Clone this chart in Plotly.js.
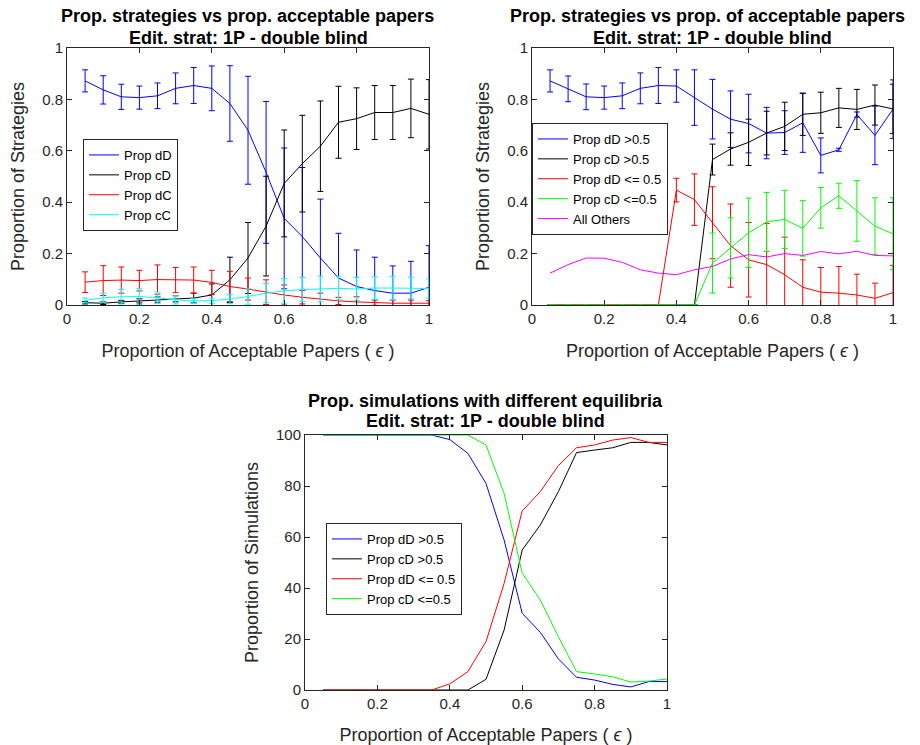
<!DOCTYPE html>
<html>
<head>
<meta charset="utf-8">
<script src="https://cdn.plot.ly/plotly-3.0.1.min.js"></script>
<style>
  html, body { margin: 0; padding: 0; background: #ffffff; }
  #chart { width: 920px; height: 745px; }
</style>
</head>
<body>
<div id="chart"></div>
<script>
// ---------- data ----------
const eps = [0.05, 0.10, 0.15, 0.20, 0.25, 0.30, 0.35, 0.40, 0.45, 0.50,
             0.55, 0.60, 0.65, 0.70, 0.75, 0.80, 0.85, 0.90, 0.95, 1.00];

// top-left: proportion of strategies
const tlNames = ['Prop dD', 'Prop cD', 'Prop dC', 'Prop cC'];
const tlDD    = [0.872,0.837,0.810,0.807,0.814,0.843,0.854,0.843,0.784,0.680,0.516,0.337,0.266,0.183,0.105,0.072,0.056,0.046,0.046,0.069];
const tlDDerr = [0.043,0.055,0.049,0.045,0.050,0.060,0.070,0.087,0.147,0.210,0.276,0.274,0.269,0.229,0.174,0.142,0.130,0.106,0.124,0.162];
const tlCD    = [0.009,0.007,0.012,0.016,0.021,0.024,0.027,0.039,0.098,0.183,0.307,0.473,0.550,0.618,0.711,0.725,0.749,0.749,0.765,0.742];
const tlCDerr = [0.005,0.005,0.006,0.008,0.010,0.012,0.019,0.043,0.088,0.138,0.194,0.208,0.188,0.176,0.140,0.120,0.105,0.105,0.114,0.135];
const tlDC    = [0.089,0.095,0.097,0.095,0.099,0.097,0.097,0.088,0.072,0.062,0.050,0.039,0.030,0.022,0.016,0.012,0.009,0.007,0.007,0.007];
const tlDCerr = [0.040,0.058,0.051,0.040,0.057,0.049,0.051,0.047,0.059,0.043,0.048,0.039,0.026,0.024,0.014,0.020,0.010,0.012,0.012,0.010];
const tlCC    = [0.018,0.028,0.032,0.033,0.028,0.020,0.016,0.017,0.023,0.033,0.046,0.055,0.060,0.062,0.065,0.062,0.066,0.066,0.066,0.064];
const tlCCerr = [0.009,0.018,0.028,0.031,0.022,0.016,0.010,0.010,0.018,0.030,0.037,0.048,0.047,0.050,0.045,0.045,0.044,0.046,0.042,0.037];

// top-right: proportion of strategies split by equilibrium
const trNames = ['Prop dD >0.5', 'Prop cD >0.5', 'Prop dD <= 0.5', 'Prop cD <=0.5', 'All Others'];
const trDDhi    = [0.872,0.841,0.810,0.807,0.814,0.843,0.854,0.852,0.807,0.762,0.723,0.706,0.669,0.671,0.709,0.582,0.604,0.741,0.660,0.762];
const trDDhiErr = [0.043,0.050,0.050,0.045,0.050,0.060,0.070,0.063,0.108,0.116,0.110,0.114,0.100,0.085,0.115,0.068,0.006,0.010,0.114,0.114];
const trCDhi    = [0,0,0,0,0,0,0,0,0,0.566,0.607,0.633,0.669,0.695,0.742,0.748,0.767,0.761,0.778,0.763];
const trCDhiErr = [0,0,0,0,0,0,0,0,0,0.060,0.063,0.090,0.085,0.094,0.082,0.080,0.076,0.078,0.078,0.096];
const trDDlo    = [0,0,0,0,0,0,0,0.447,0.410,0.320,0.231,0.176,0.157,0.118,0.069,0.050,0.046,0.039,0.026,0.048];
const trDDloErr = [0,0,0,0,0,0,0,0.046,0.100,0.140,0.162,0.145,0.160,0.146,0.107,0.096,0.104,0.081,0.059,0.106];
const trCDlo    = [0,0,0,0,0,0,0,0,0,0.163,0.222,0.281,0.323,0.333,0.298,0.378,0.425,0.366,0.307,0.277];
const trCDloErr = [0,0,0,0,0,0,0,0,0,0.117,0.117,0.135,0.115,0.113,0.108,0.079,0.049,0.118,0.110,0.140];
const trOthers  = [0.124,0.157,0.183,0.182,0.166,0.137,0.124,0.118,0.137,0.150,0.179,0.196,0.187,0.200,0.193,0.208,0.199,0.209,0.193,0.191];

// bottom: proportion of simulations (%)
const btNames = ['Prop dD >0.5', 'Prop cD >0.5', 'Prop dD <= 0.5', 'Prop cD <=0.5'];
const btDDhi = [100,100,100,100,100,100,100,98.2,92.8,81.0,58.8,30.1,22.6,12.2,5.0,3.9,2.2,1.2,3.3,3.3];
const btCDhi = [0,0,0,0,0,0,0,0,0,4.2,23.5,54.9,64.7,77.8,93.1,94.1,95.0,97.1,97.1,96.1];
const btDDlo = [0,0,0,0,0,0,0,2.4,7.2,19.0,41.8,70.2,77.8,88.0,95.0,96.1,98.0,99.0,97.1,97.1];
const btCDlo = [100,100,100,100,100,100,100,100,100,96.1,77.1,45.8,35.3,20.9,7.2,6.3,5.2,3.1,3.5,4.3];

const titleLine1 = ['Prop. strategies vs prop. acceptable papers',
                    'Prop. strategies vs prop. of acceptable papers',
                    'Prop. simulations with different equilibria'];
const titleLine2 = 'Edit. strat: 1P - double blind';
const xLabel = 'Proportion of Acceptable Papers ( <i>ϵ</i> )';
const yLabels = ['Proportion of Strategies', 'Proportion of Strategies', 'Proportion of Simulations'];

// ---------- styling ----------
const BLUE = '#0000ff', BLACK = '#000000', RED = '#ff0000', CYAN = '#00ffff', GREEN = '#00ff00', MAGENTA = '#ff00ff';
const FONT = 'Liberation Sans, Arial, sans-serif';
const AX = '#262626';

function errTrace(name, y, err, color, xa, ya, leg) {
  const t = {
    x: eps, y: y, name: name, type: 'scatter', mode: 'lines',
    line: {color: color, width: 1},
    xaxis: xa, yaxis: ya, legend: leg
  };
  if (err) {
    t.error_y = {type: 'data', array: err, visible: true, color: color, thickness: 1, width: 3};
  }
  return t;
}

const data = [
  errTrace(tlNames[0], tlDD, tlDDerr, BLUE, 'x', 'y', 'legend'),
  errTrace(tlNames[1], tlCD, tlCDerr, BLACK, 'x', 'y', 'legend'),
  errTrace(tlNames[2], tlDC, tlDCerr, RED, 'x', 'y', 'legend'),
  errTrace(tlNames[3], tlCC, tlCCerr, CYAN, 'x', 'y', 'legend'),

  errTrace(trNames[0], trDDhi, trDDhiErr, BLUE, 'x2', 'y2', 'legend2'),
  errTrace(trNames[1], trCDhi, trCDhiErr, BLACK, 'x2', 'y2', 'legend2'),
  errTrace(trNames[2], trDDlo, trDDloErr, RED, 'x2', 'y2', 'legend2'),
  errTrace(trNames[3], trCDlo, trCDloErr, GREEN, 'x2', 'y2', 'legend2'),
  errTrace(trNames[4], trOthers, null, MAGENTA, 'x2', 'y2', 'legend2'),

  errTrace(btNames[0], btDDhi, null, BLUE, 'x3', 'y3', 'legend3'),
  errTrace(btNames[1], btCDhi, null, BLACK, 'x3', 'y3', 'legend3'),
  errTrace(btNames[2], btDDlo, null, RED, 'x3', 'y3', 'legend3'),
  errTrace(btNames[3], btCDlo, null, GREEN, 'x3', 'y3', 'legend3')
];

const W = 920, H = 745;
function px(v) { return v / W; }
function py(v) { return 1 - v / H; }

function xAxis(domain, anchor) {
  return {
    domain: domain, anchor: anchor, range: [0, 1],
    tickvals: [0, 0.2, 0.4, 0.6, 0.8, 1], ticktext: ['0', '0.2', '0.4', '0.6', '0.8', '1'],
    ticks: 'inside', ticklen: 5, tickwidth: 1, tickcolor: AX,
    showline: true, linecolor: AX, linewidth: 1, mirror: 'ticks',
    showgrid: false, zeroline: false,
    tickfont: {family: FONT, size: 15, color: AX},
    title: {text: xLabel, font: {family: FONT, size: 18, color: AX}, standoff: 18}
  };
}
function yAxis(domain, anchor, range, vals, title) {
  return {
    domain: domain, anchor: anchor, range: range,
    tickvals: vals, ticktext: vals.map(String),
    ticks: 'inside', ticklen: 5, tickwidth: 1, tickcolor: AX,
    showline: true, linecolor: AX, linewidth: 1, mirror: 'ticks',
    showgrid: false, zeroline: false,
    tickfont: {family: FONT, size: 15, color: AX},
    title: {text: title, font: {family: FONT, size: 18, color: AX}, standoff: 12}
  };
}

const topY = [py(305), py(48)];
const botY = [py(690), py(435)];

function legendBox(x, y) {
  return {
    x: x, y: y, xref: 'paper', yref: 'paper', xanchor: 'left', yanchor: 'top',
    bgcolor: '#ffffff', bordercolor: AX, borderwidth: 1,
    font: {family: FONT, size: 13, color: '#000000'},
    tracegroupgap: 0, itemwidth: 30
  };
}

function titleAnn(cx, cy, text) {
  return {
    x: px(cx), y: py(cy), xref: 'paper', yref: 'paper', xanchor: 'center', yanchor: 'middle',
    showarrow: false, text: '<b>' + text + '</b>',
    font: {family: FONT, size: 18, color: '#000000'}
  };
}

const layout = {
  width: W, height: H,
  margin: {l: 0, r: 0, t: 0, b: 0},
  paper_bgcolor: '#ffffff', plot_bgcolor: '#ffffff',
  showlegend: true,
  xaxis: xAxis([px(67), px(429)], 'y'),
  yaxis: yAxis(topY, 'x', [0, 1], [0, 0.2, 0.4, 0.6, 0.8, 1], yLabels[0]),
  xaxis2: xAxis([px(532), px(893)], 'y2'),
  yaxis2: yAxis(topY, 'x2', [0, 1], [0, 0.2, 0.4, 0.6, 0.8, 1], yLabels[1]),
  xaxis3: xAxis([px(305), px(667)], 'y3'),
  yaxis3: yAxis(botY, 'x3', [0, 100], [0, 20, 40, 60, 80, 100], yLabels[2]),
  legend: legendBox(px(83), py(139)),
  legend2: legendBox(px(532), py(123)),
  legend3: legendBox(px(326), py(523)),
  annotations: [
    titleAnn(247, 16, titleLine1[0]), titleAnn(248, 38, titleLine2),
    titleAnn(707, 16, titleLine1[1]), titleAnn(712, 38, titleLine2),
    titleAnn(486, 401, titleLine1[2]), titleAnn(486, 421, titleLine2)
  ]
};

Plotly.newPlot('chart', data, layout, {displayModeBar: false, staticPlot: true});
</script>
</body>
</html>
